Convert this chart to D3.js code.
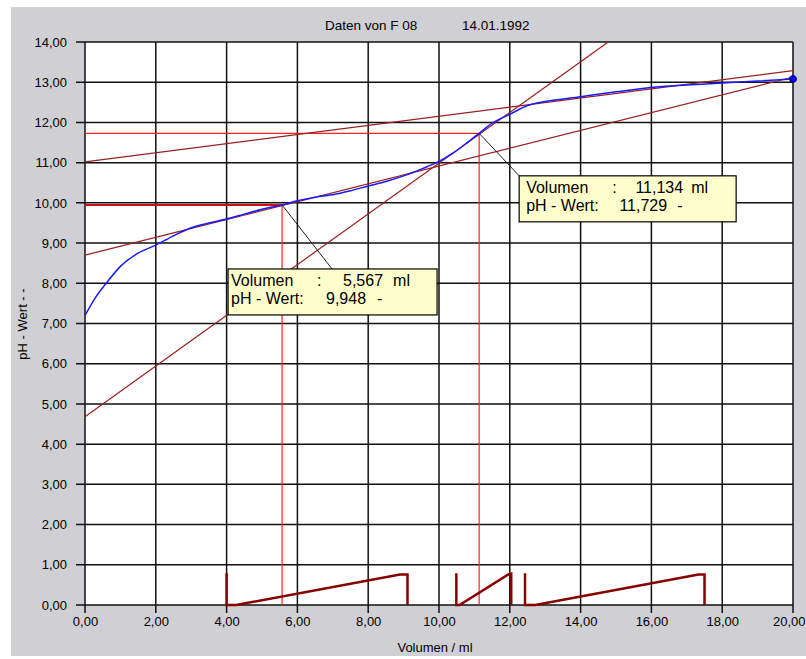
<!DOCTYPE html>
<html>
<head>
<meta charset="utf-8">
<script src="https://cdn.jsdelivr.net/npm/d3@7"></script>
<style>
  body { margin: 0; background: #fff; }
  svg text { font-family: "Liberation Sans", Arial, sans-serif; fill: #000; }
</style>
</head>
<body>
<div class="chart"></div>
<script>
// Titrationskurve (Volumen in ml, pH)
var volumen = [0, 0.3, 0.6, 1.0, 1.5, 2.0, 2.5, 3.0, 3.5, 4.0, 4.5, 5.0, 5.567, 6.0, 6.5, 7.0, 7.5,
               8.0, 8.5, 9.0, 9.5, 10.0, 10.4, 10.8, 11.134, 11.5, 12.0, 12.5, 13.0, 14.0, 15.0,
               16.0, 17.0, 18.0, 19.0, 20.0];
var phWert = [7.2, 7.65, 8.0, 8.42, 8.75, 8.95, 9.18, 9.38, 9.5, 9.6, 9.72, 9.84, 9.948, 10.05, 10.14, 10.2, 10.3,
              10.42, 10.53, 10.67, 10.84, 11.03, 11.24, 11.5, 11.729, 11.98, 12.2, 12.42, 12.52, 12.64, 12.76,
              12.87, 12.93, 12.98, 13.03, 13.08];

// Tangenten: [x1, y1, x2, y2]
var tangenten = [
  [0, 8.70, 20, 13.13],
  [0, 4.68, 14.78, 14.0],
  [0, 11.02, 20, 13.29]
];

// markierte Punkte
var markVolumen = [5.567, 11.134];
var markPH = [9.948, 11.729];

// Auswertebereiche unten (Sägezahn)
var bereiche = [
  [[4.0, 0.79], [4.0, 0], [4.27, 0], [8.90, 0.76], [9.11, 0.76], [9.11, 0]],
  [[10.49, 0.79], [10.49, 0], [10.58, 0], [11.96, 0.76], [12.04, 0.78], [12.04, 0]],
  [[12.43, 0.79], [12.43, 0], [12.72, 0], [17.33, 0.76], [17.5, 0.76], [17.5, 0]]
];

var xTicks = [0, 2, 4, 6, 8, 10, 12, 14, 16, 18, 20];
var yTicks = [0, 1, 2, 3, 4, 5, 6, 7, 8, 9, 10, 11, 12, 13, 14];

drawChart();

function drawChart(){
  var w = 806, h = 659;
  var left = 85, right = 793, top = 42, bottom = 605;

  var de = d3.formatLocale({decimal: ",", thousands: ".", grouping: [3], currency: ["", " €"]});
  var fmt = de.format(".2f");
  var fmt3 = de.format(".3f");

  var x = d3.scaleLinear().domain([0, 20]).range([left, right]);
  var y = d3.scaleLinear().domain([0, 14]).range([bottom, top]);

  var svg = d3.select(".chart").append("svg")
    .attr("width", w)
    .attr("height", h);

  // Hintergrund
  svg.append("rect").attr("x", 11).attr("y", 7).attr("width", w - 11).attr("height", 649)
    .attr("fill", "#d0cfd3");
  svg.append("rect").attr("x", left).attr("y", top).attr("width", right - left).attr("height", bottom - top)
    .attr("fill", "#fff");

  // Titel
  svg.append("text").attr("x", 325).attr("y", 30).attr("font-size", 13.5).text("Daten von F 08");
  svg.append("text").attr("x", 462).attr("y", 30).attr("font-size", 13.5).text("14.01.1992");

  // Gitter
  var grid = svg.append("g").attr("stroke", "#111").attr("stroke-width", 1.5);
  grid.selectAll(".gx").data(xTicks).enter().append("line")
    .attr("x1", function(d){ return x(d); }).attr("x2", function(d){ return x(d); })
    .attr("y1", top).attr("y2", bottom + 8);
  grid.selectAll(".gy").data(yTicks).enter().append("line")
    .attr("x1", left - 9).attr("x2", right)
    .attr("y1", function(d){ return y(d); }).attr("y2", function(d){ return y(d); });

  // Achsenbeschriftung
  var xAxis = d3.axisBottom(x).tickValues(xTicks).tickFormat(fmt).tickSize(0).tickPadding(12);
  var gx = svg.append("g").attr("transform", "translate(0," + bottom + ")").call(xAxis);
  gx.select(".domain").remove();
  gx.selectAll("text").attr("font-size", 13).attr("font-family", "Liberation Sans, Arial, sans-serif");
  // letzte Beschriftung am Rand ausrichten
  gx.selectAll(".tick").filter(function(d){ return d == 20; }).select("text")
    .attr("text-anchor", "end").attr("x", 12);

  var yAxis = d3.axisLeft(y).tickValues(yTicks).tickFormat(fmt).tickSize(0).tickPadding(18);
  var gy = svg.append("g").attr("transform", "translate(" + left + ",0)").call(yAxis);
  gy.select(".domain").remove();
  gy.selectAll("text").attr("font-size", 13).attr("font-family", "Liberation Sans, Arial, sans-serif");

  svg.append("text").attr("x", 435).attr("y", 652).attr("text-anchor", "middle")
    .attr("font-size", 13).text("Volumen / ml");
  svg.append("text").attr("transform", "translate(27,324) rotate(-90)").attr("text-anchor", "middle")
    .attr("font-size", 13).text("pH - Wert - -");

  // rote Hilfslinien
  var red = svg.append("g").attr("stroke", "#ff2020").attr("stroke-width", 1.2);
  markVolumen.forEach(function(v, i){
    red.append("line").attr("x1", x(0)).attr("x2", x(v))
      .attr("y1", y(markPH[i])).attr("y2", y(markPH[i]))
      .attr("stroke-width", i == 0 ? 2 : 1.2)
      .attr("stroke", i == 0 ? "#d01010" : "#ff2020");
    red.append("line").attr("x1", x(v)).attr("x2", x(v))
      .attr("y1", y(markPH[i])).attr("y2", y(0));
  });

  // Tangenten
  svg.append("g").selectAll("line").data(tangenten).enter().append("line")
    .attr("x1", function(d){ return x(d[0]); }).attr("y1", function(d){ return y(d[1]); })
    .attr("x2", function(d){ return x(d[2]); }).attr("y2", function(d){ return y(d[3]); })
    .attr("stroke", "#9a2020").attr("stroke-width", 1.2);

  // Titrationskurve
  var line = d3.line()
    .x(function(d){ return x(d[0]); })
    .y(function(d){ return y(d[1]); })
    .curve(d3.curveMonotoneX);
  var pts = volumen.map(function(v, i){ return [v, phWert[i]]; });
  svg.append("path").datum(pts).attr("d", line)
    .attr("fill", "none").attr("stroke", "#1a1aff").attr("stroke-width", 1.5);
  svg.append("circle").attr("cx", x(volumen[volumen.length - 1])).attr("cy", y(phWert[phWert.length - 1]))
    .attr("r", 3.5).attr("fill", "#0000ee").attr("stroke", "#000066").attr("stroke-width", 0.8);

  // Sägezahn unten
  var sLine = d3.line().x(function(d){ return x(d[0]); }).y(function(d){ return y(d[1]); });
  svg.append("g").selectAll("path").data(bereiche).enter().append("path")
    .attr("d", sLine).attr("fill", "none").attr("stroke", "#880000").attr("stroke-width", 2.5);

  // Infoboxen
  var boxes = [
    {dx: -54, dy: 64, lx: 104, w: 209, c: [3, 89, 155, 165, 138, 149]},
    {dx: 40, dy: 42.5, lx: 0, w: 217, c: [7, 93, 164, 172, 148, 158]}
  ];
  markVolumen.forEach(function(v, i){
    var b = boxes[i];
    var px = x(v), py = y(markPH[i]);
    var bx = px + b.dx, by = py + b.dy;
    svg.append("line").attr("x1", px).attr("y1", py).attr("x2", bx + b.lx).attr("y2", by)
      .attr("stroke", "#222").attr("stroke-width", 1);
    svg.append("rect").attr("x", bx).attr("y", by).attr("width", b.w).attr("height", 46)
      .attr("fill", "#ffffcc").attr("stroke", "#000").attr("stroke-width", 1.2);
    var g = svg.append("g").attr("font-size", 16);
    g.append("text").attr("x", bx + b.c[0]).attr("y", by + 17.5).text("Volumen");
    g.append("text").attr("x", bx + b.c[1]).attr("y", by + 17.5).text(":");
    g.append("text").attr("x", bx + b.c[2]).attr("y", by + 17.5).attr("text-anchor", "end").text(fmt3(v));
    g.append("text").attr("x", bx + b.c[3]).attr("y", by + 17.5).text("ml");
    g.append("text").attr("x", bx + b.c[0]).attr("y", by + 35).text("pH - Wert:");
    g.append("text").attr("x", bx + b.c[4]).attr("y", by + 35).attr("text-anchor", "end").text(fmt3(markPH[i]));
    g.append("text").attr("x", bx + b.c[5]).attr("y", by + 35).text("-");
  });
}
</script>
</body>
</html>
